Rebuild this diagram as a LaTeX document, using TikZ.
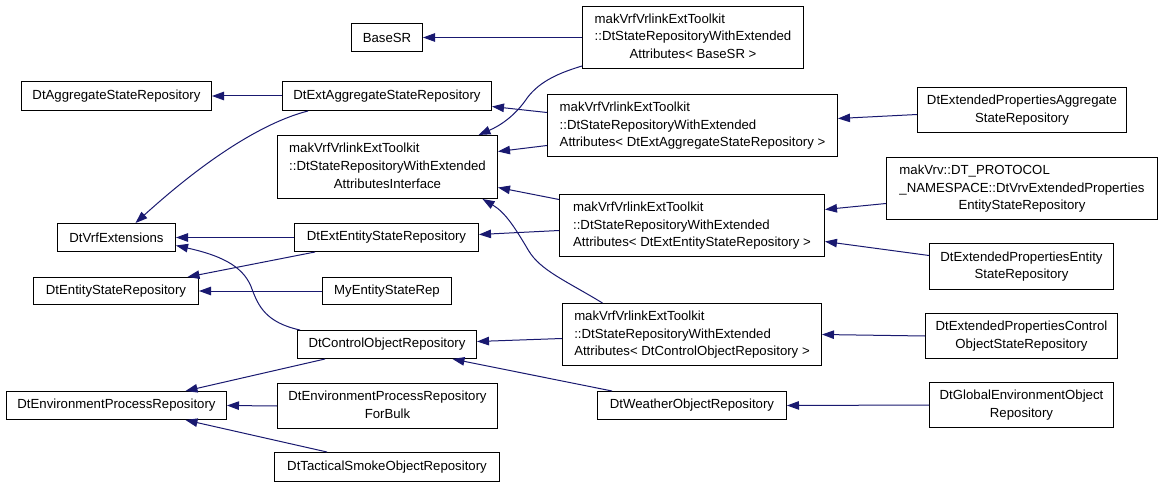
\documentclass[tikz,border=0pt]{standalone}
\usepackage{fontspec}
\setmainfont{Liberation Sans}
\usetikzlibrary{arrows.meta,calc}
\definecolor{edgeblue}{HTML}{191970}
\newcommand{\dxlab}[2]{\begin{tabular}{@{}l@{}}#1\\\multicolumn{1}{@{}c@{}}{#2}\end{tabular}}
\begin{document}
\begin{tikzpicture}[x=1pt,y=-1pt,
  box/.style={draw=black, fill=white, line width=1pt, inner sep=0pt, rectangle,
    font=\fontsize{13.2}{17.5}\selectfont},
  edge/.style={draw=edgeblue, line width=1pt, -{Triangle[length=12pt,width=8.5pt]}, edgeblue}]
\fill[white] (0,0) rectangle (1163,487);
\path[use as bounding box] (0,0) rectangle (1163,487);
\begin{scope}[shift={(0.5,0.5)}]
% column 1
\node[box, minimum width=190pt, minimum height=29pt] (DtAgg) at (116,95.5) {DtAggregateStateRepository};
\node[box, minimum width=118pt, minimum height=28pt] (DtVrfExt) at (116,237) {DtVrfExtensions};
\node[box, minimum width=165pt, minimum height=27pt] (DtEntity) at (115.5,290.5) {DtEntityStateRepository};
\node[box, minimum width=220pt, minimum height=28pt] (DtEnvProc) at (116,405) {DtEnvironmentProcessRepository};

% column 2
\node[box, minimum width=71pt, minimum height=28pt] (BaseSR) at (386.5,37) {BaseSR};
\node[box, minimum width=209pt, minimum height=29pt] (DtExtAgg) at (386.5,95.5) {DtExtAggregateStateRepository};
\node[box, minimum width=220pt, minimum height=63pt] (Interface) at (387,166.5) {\dxlab{makVrfVrlinkExtToolkit\\::DtStateRepositoryWithExtended}{AttributesInterface}};
\node[box, minimum width=184pt, minimum height=28pt] (DtExtEntity) at (386,237) {DtExtEntityStateRepository};
\node[box, minimum width=129pt, minimum height=27pt] (MyEntity) at (386.5,290.5) {MyEntityStateRep};
\node[box, minimum width=179pt, minimum height=28pt] (DtControlObj) at (386.5,344) {DtControlObjectRepository};
\node[box, minimum width=220pt, minimum height=45pt] (DtEnvProcBulk) at (387,405.5) {\dxlab{DtEnvironmentProcessRepository}{ForBulk}};
\node[box, minimum width=225pt, minimum height=29pt] (DtTactical) at (386.5,466.5) {DtTacticalSmokeObjectRepository};

% column 3
\node[box, minimum width=221pt, minimum height=62pt] (TplBase) at (692.5,37) {\dxlab{makVrfVrlinkExtToolkit\\::DtStateRepositoryWithExtended}{Attributes< BaseSR >}};
\node[box, minimum width=290pt, minimum height=62pt] (TplAgg) at (692,125) {\dxlab{makVrfVrlinkExtToolkit\\::DtStateRepositoryWithExtended}{Attributes< DtExtAggregateStateRepository >}};
\node[box, minimum width=265pt, minimum height=62pt] (TplEnt) at (691.5,225) {\dxlab{makVrfVrlinkExtToolkit\\::DtStateRepositoryWithExtended}{Attributes< DtExtEntityStateRepository >}};
\node[box, minimum width=259pt, minimum height=62pt] (TplCtrl) at (691.5,334) {\dxlab{makVrfVrlinkExtToolkit\\::DtStateRepositoryWithExtended}{Attributes< DtControlObjectRepository >}};
\node[box, minimum width=189pt, minimum height=28pt] (DtWeather) at (691.5,405) {DtWeatherObjectRepository};

% column 4
\node[box, minimum width=209pt, minimum height=45pt] (DtExtPropAgg) at (1021.5,109.5) {\dxlab{DtExtendedPropertiesAggregate}{StateRepository}};
\node[box, minimum width=271pt, minimum height=62pt] (DtVrv) at (1021.5,188) {\dxlab{makVrv::DT\_PROTOCOL\\\_NAMESPACE::DtVrvExtendedProperties}{EntityStateRepository}};
\node[box, minimum width=184pt, minimum height=46pt] (DtExtPropEntity) at (1021,266) {\dxlab{DtExtendedPropertiesEntity}{StateRepository}};
\node[box, minimum width=192pt, minimum height=45pt] (DtExtPropControl) at (1021,335.5) {\dxlab{DtExtendedPropertiesControl}{ObjectStateRepository}};
\node[box, minimum width=184pt, minimum height=45pt] (DtGlobalEnv) at (1021,404.5) {\dxlab{DtGlobalEnvironmentObject}{Repository}};

% edges (child -> base)
\draw[edge] (TplBase.west) -- (BaseSR.east);
\draw[edge] (DtExtAgg.west) -- (DtAgg.east);
\draw[edge] ($(DtExtAgg.south west)+(26,0)$) .. controls (270,120) and (215,150) .. ($(DtVrfExt.north)+(19,0)$);
\draw[edge] ($(TplAgg.west)+(0,-13)$) -- ($(DtExtAgg.east)+(0,10.5)$);
\draw[edge] ($(TplAgg.west)+(0,20)$) -- ($(Interface.east)+(0,-15.5)$);
\draw[edge] ($(TplBase.south west)+(0,-3)$) .. controls (560,72) and (540,80) .. (527,97) .. controls (515,115) and (500,125) .. ($(Interface.north)+(91,0)$);
\draw[edge] ($(TplEnt.west)+(0,-26)$) -- ($(Interface.east)+(0,20.5)$);
\draw[edge] ($(TplEnt.west)+(0,5)$) -- ($(DtExtEntity.east)+(0,-3)$);
\draw[edge] ($(TplCtrl.north)+(-89.5,0)$) .. controls (565,280) and (540,270) .. (528,250) .. controls (515,228) and (505,212) .. ($(Interface.south)+(95,0)$);
\draw[edge] (DtExtEntity.west) -- (DtVrfExt.east);
\draw[edge] ($(DtExtEntity.south west)+(21,0)$) -- ($(DtEntity.north)+(71.5,0)$);
\draw[edge] (MyEntity.west) -- (DtEntity.east);
\draw[edge] ($(DtControlObj.north west)+(3,0)$) .. controls (265,322) and (258,305) .. (252,290) .. controls (245,268) and (225,256) .. ($(DtVrfExt.east)+(0,8)$);
\draw[edge] ($(TplCtrl.west)+(0,4)$) -- ($(DtControlObj.east)+(0,-3)$);
\draw[edge] ($(DtWeather.north west)+(15,0)$) -- ($(DtControlObj.south)+(65.5,0)$);
\draw[edge] ($(DtControlObj.south west)+(28,0)$) -- ($(DtEnvProc.north)+(69,0)$);
\draw[edge] (DtEnvProcBulk.west) -- (DtEnvProc.east);
\draw[edge] ($(DtTactical.north west)+(53,0)$) -- ($(DtEnvProc.south)+(69,0)$);
\draw[edge] ($(DtExtPropAgg.west)+(0,4.5)$) -- ($(TplAgg.east)+(0,-7)$);
\draw[edge] ($(DtVrv.west)+(0,15)$) -- ($(TplEnt.east)+(0,-16)$);
\draw[edge] ($(DtExtPropEntity.west)+(0,-11)$) -- ($(TplEnt.east)+(0,16)$);
\draw[edge] (DtExtPropControl.west) -- (TplCtrl.east);
\draw[edge] (DtGlobalEnv.west) -- (DtWeather.east);
\end{scope}
\end{tikzpicture}
\end{document}
